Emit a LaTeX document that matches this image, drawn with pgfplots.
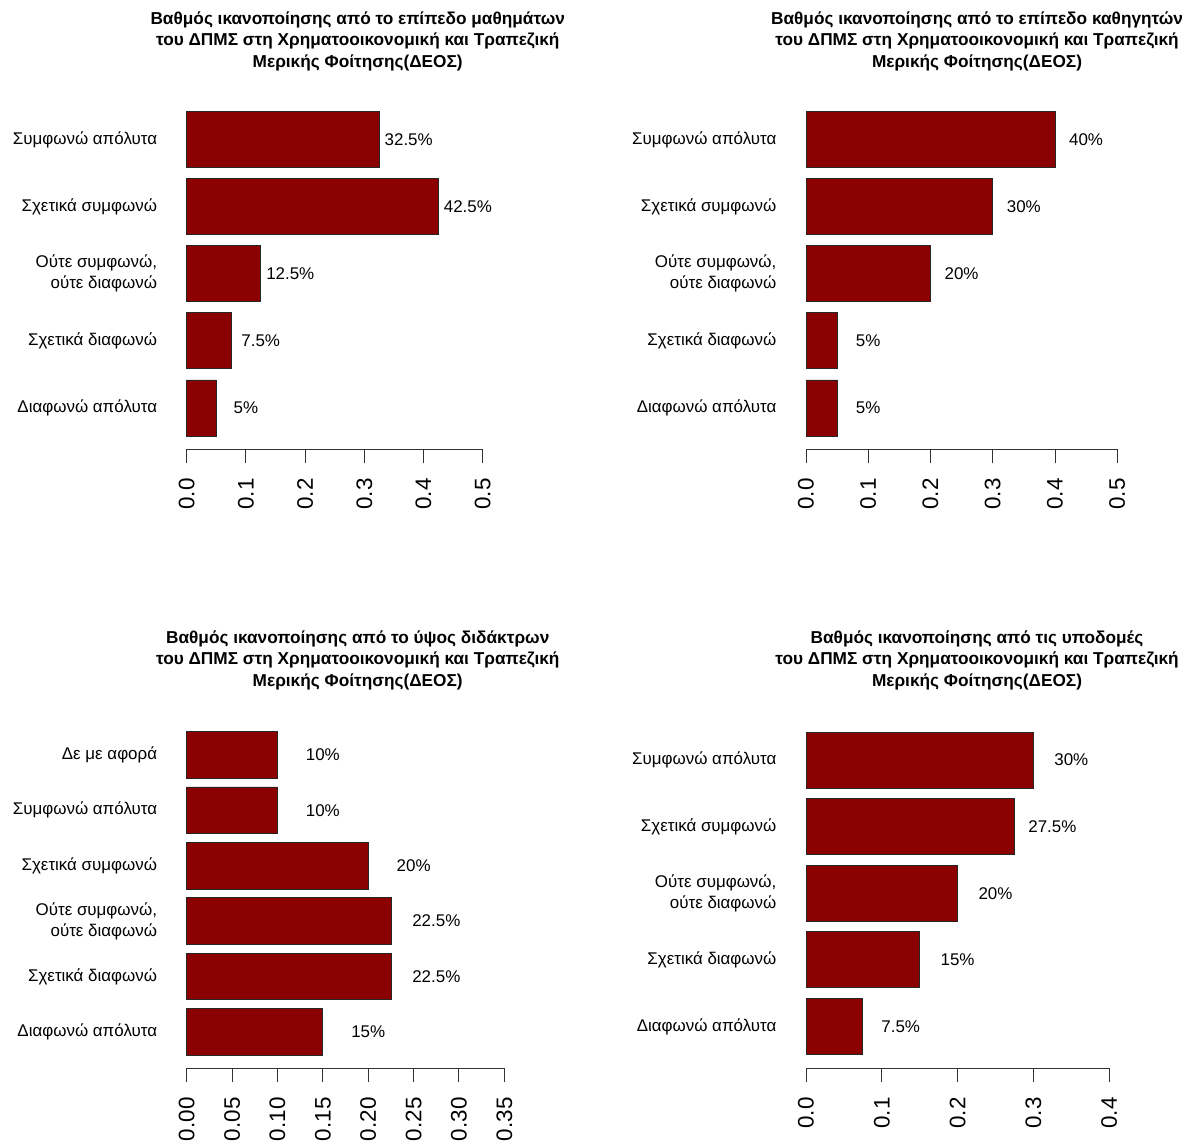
\documentclass[border=0pt]{standalone}
\usepackage{fontspec}
\setmainfont{Liberation Sans}
\usepackage{pgfplots}
\usepackage{pgfplotstable}
\pgfplotsset{compat=1.18}
\definecolor{barred}{HTML}{8B0000}
\definecolor{axgray}{HTML}{333333}

\pgfplotstableread{
pos v lab
1 0.05 5
2 0.075 7.5
3 0.125 12.5
4 0.425 42.5
5 0.325 32.5
}\tA
\pgfplotstableread{
pos v lab
1 0.05 5
2 0.05 5
3 0.20 20
4 0.30 30
5 0.40 40
}\tB
\pgfplotstableread{
pos v lab
1 0.15 15
2 0.225 22.5
3 0.225 22.5
4 0.20 20
5 0.10 10
6 0.10 10
}\tC
\pgfplotstableread{
pos v lab
1 0.075 7.5
2 0.15 15
3 0.20 20
4 0.275 27.5
5 0.30 30
}\tD

\pgfplotsset{
  rbar/.style={
    scale only axis, anchor=south west,
    axis x line*=bottom, axis y line*=left,
    y axis line style={draw=none},
    x axis line style={-, line width=1bp, axgray},
    xmin=0, enlargelimits=false, clip=false,
    tick align=outside,
    major tick length=14bp,
    xtick style={line width=1bp, axgray},
    ytick style={draw=none},
    yticklabel style={font=\fontsize{17}{21}\selectfont, align=right, anchor=east, inner sep=0pt},
    yticklabel shift=15.4bp,
    xticklabel style={font=\fontsize{22.5}{24}\selectfont, rotate=90, anchor=east, inner sep=0pt,
      /pgf/number format/fixed, /pgf/number format/fixed zerofill, /pgf/number format/precision=1},
    xticklabel shift=15bp,
    /pgf/number format/assume math mode=true,
    xbar, bar width=56bp,
    point meta=explicit symbolic,
    nodes near coords={\pgfplotspointmeta\%},
    nodes near coords align={center},
  },
  rbarplot/.style={fill=barred, draw=black!85, line width=0.8bp},
  lab5/.style={ytick={1,2,3,4,5},
    yticklabels={Διαφωνώ απόλυτα, Σχετικά διαφωνώ, {Ούτε συμφωνώ,\\ούτε διαφωνώ}, Σχετικά συμφωνώ, Συμφωνώ απόλυτα}},
}

\begin{document}
\begin{tikzpicture}
\useasboundingbox (0bp,0bp) rectangle (1194bp,1146bp);

% Panel 1
\begin{axis}[rbar, lab5, at={(186.7bp,696.7bp)}, x=592bp, y=67.1bp, xmax=0.5, ymin=0.3845, ymax=5.6,
  xtick={0,0.1,...,0.5},
  every node near coord/.append style={anchor=center, xshift=29.6bp, font=\fontsize{17}{20}\selectfont}]
\addplot[rbarplot] table[x=v, y=pos, meta=lab] {\tA};
\end{axis}

% Panel 2
\begin{axis}[rbar, lab5, at={(806bp,696.7bp)}, x=622.5bp, y=67.1bp, xmax=0.5, ymin=0.3845, ymax=5.6,
  xtick={0,0.1,...,0.5},
  every node near coord/.append style={anchor=center, xshift=31.1bp, font=\fontsize{17}{20}\selectfont}]
\addplot[rbarplot] table[x=v, y=pos, meta=lab] {\tB};
\end{axis}

% Panel 3
\begin{axis}[rbar, at={(186.7bp,77.7bp)}, x=907.6bp, y=55.45bp, xmax=0.35, ymin=0.3454, ymax=6.6,
  bar width=46.5bp,
  xtick={0,0.05,...,0.35},
  xticklabel style={/pgf/number format/precision=2},
  ytick={1,2,3,4,5,6},
  yticklabels={Διαφωνώ απόλυτα, Σχετικά διαφωνώ, {Ούτε συμφωνώ,\\ούτε διαφωνώ}, Σχετικά συμφωνώ, Συμφωνώ απόλυτα, Δε με αφορά},
  every node near coord/.append style={anchor=center, xshift=45.4bp, font=\fontsize{17}{20}\selectfont}]
\addplot[rbarplot] table[x=v, y=pos, meta=lab] {\tC};
\end{axis}

% Panel 4
\begin{axis}[rbar, lab5, at={(806bp,77.7bp)}, x=758bp, y=66.6bp, xmax=0.4, ymin=0.371, ymax=5.6,
  xtick={0,0.1,...,0.4},
  every node near coord/.append style={anchor=center, xshift=37.9bp, font=\fontsize{17}{20}\selectfont}]
\addplot[rbarplot] table[x=v, y=pos, meta=lab] {\tD};
\end{axis}

% Titles
\begin{scope}[every node/.style={align=center, inner sep=0pt, anchor=base, font=\bfseries\fontsize{17.3}{21.5}\selectfont}]
\node at (357.7bp,1078.6bp) {Βαθμός ικανοποίησης από το επίπεδο μαθημάτων\\του ΔΠΜΣ στη Χρηματοοικονομική και Τραπεζική\\Μερικής Φοίτησης(ΔΕΟΣ)};
\node at (977bp,1078.6bp) {Βαθμός ικανοποίησης από το επίπεδο καθηγητών\\του ΔΠΜΣ στη Χρηματοοικονομική και Τραπεζική\\Μερικής Φοίτησης(ΔΕΟΣ)};
\node at (357.7bp,459.6bp) {Βαθμός ικανοποίησης από το ύψος διδάκτρων\\του ΔΠΜΣ στη Χρηματοοικονομική και Τραπεζική\\Μερικής Φοίτησης(ΔΕΟΣ)};
\node at (977bp,459.6bp) {Βαθμός ικανοποίησης από τις υποδομές\\του ΔΠΜΣ στη Χρηματοοικονομική και Τραπεζική\\Μερικής Φοίτησης(ΔΕΟΣ)};
\end{scope}
\end{tikzpicture}
\end{document}
